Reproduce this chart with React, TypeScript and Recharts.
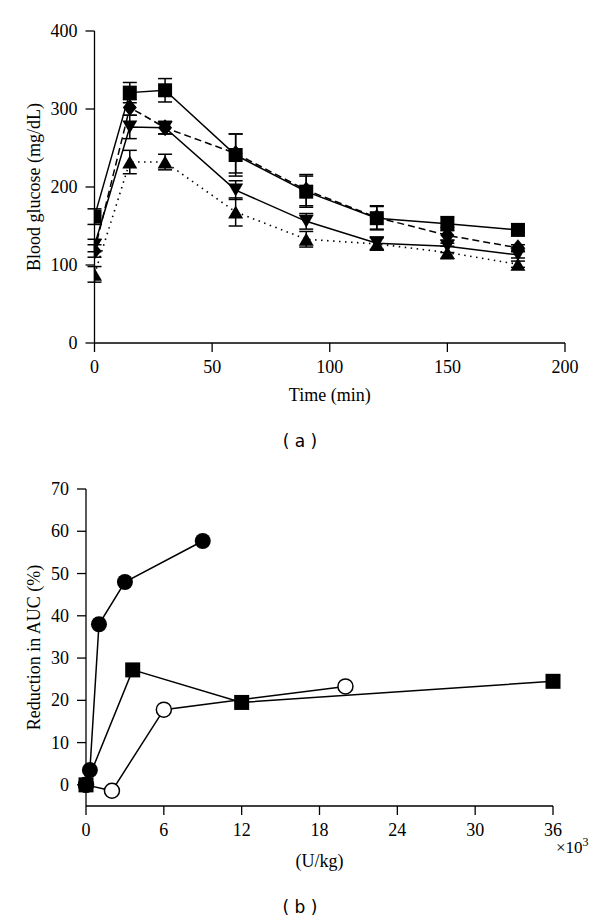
import React from 'react';
import { LineChart, Line, XAxis, YAxis, ErrorBar, ScatterChart, Scatter, Label } from 'recharts';

const SERIF = '"Liberation Serif", "DejaVu Serif", serif';
const SANS = '"DejaVu Sans", sans-serif';
const FS = 18;

// ---- Panel (a): blood glucose vs time ----
const timePoints = [0, 15, 30, 60, 90, 120, 150, 180];
const squareGlucose = [162, 321, 324, 241, 194, 160, 153, 145];
const squareSem = [10, 13, 15, 27, 20, 15, 9, 3];
const diamondGlucose = [118, 302, 276, 243, 196, 161, 138, 122];
const diamondSem = [8, 10, 8, 25, 20, 15, 10, 4];
const downTriGlucose = [125, 277, 276, 196, 156, 128, 124, 113];
const downTriSem = [8, 15, 8, 12, 10, 8, 8, 4];
const upTriGlucose = [88, 232, 232, 168, 133, 127, 116, 101];
const upTriSem = [10, 15, 10, 18, 10, 8, 8, 4];

const glucoseXTicks = [0, 50, 100, 150, 200];
const glucoseYTicks = [0, 100, 200, 300, 400];

// ---- Panel (b): reduction in AUC vs dose (x10^3 U/kg) ----
const filledDose = [0, 0.3, 1, 3, 9];
const filledReduction = [0, 3.5, 38, 48, 57.7];
const openDose = [0, 2, 6, 20];
const openReduction = [0, -1.4, 17.8, 23.3];
const squareDose = [0, 3.6, 12, 36];
const squareReduction = [0, 27.2, 19.5, 24.5];

const doseTicks = [0, 6, 12, 18, 24, 30, 36];
const reductionTicks = [0, 10, 20, 30, 40, 50, 60, 70];

const glucoseData = timePoints.map((t, i) => ({
  t,
  sq: squareGlucose[i],
  sqErr: squareSem[i],
  dm: diamondGlucose[i],
  dmErr: diamondSem[i],
  dt: downTriGlucose[i],
  dtErr: downTriSem[i],
  ut: upTriGlucose[i],
  utErr: upTriSem[i],
}));

const toPoints = (xs: number[], ys: number[]) => xs.map((x, i) => ({ x, y: ys[i] }));
const filledData = toPoints(filledDose, filledReduction);
const openData = toPoints(openDose, openReduction);
const squareData = toPoints(squareDose, squareReduction);

const squareDot = (size: number) => (p: any) => {
  if (p.cx == null || p.cy == null) return <g key={`sq-${p.index}`} />;
  return (
    <rect key={`sq-${p.index}`} x={p.cx - size / 2} y={p.cy - size / 2} width={size} height={size} fill="#000" />
  );
};

const diamondDot = (w: number, h: number) => (p: any) => {
  if (p.cx == null || p.cy == null) return <g key={`dm-${p.index}`} />;
  const { cx, cy } = p;
  return (
    <polygon
      key={`dm-${p.index}`}
      points={`${cx},${cy - h / 2} ${cx + w / 2},${cy} ${cx},${cy + h / 2} ${cx - w / 2},${cy}`}
      fill="#000"
    />
  );
};

const triDot = (w: number, h: number, up: boolean) => (p: any) => {
  if (p.cx == null || p.cy == null) return <g key={`tr-${p.index}`} />;
  const { cx, cy } = p;
  const pts = up
    ? `${cx},${cy - h / 2} ${cx + w / 2},${cy + h / 2} ${cx - w / 2},${cy + h / 2}`
    : `${cx},${cy + h / 2} ${cx + w / 2},${cy - h / 2} ${cx - w / 2},${cy - h / 2}`;
  return <polygon key={`tr-${p.index}`} points={pts} fill="#000" />;
};

const axisLine = { stroke: '#000', strokeWidth: 1.3 };

const XTick = (p: any) => (
  <text
    x={p.x}
    y={p.y}
    dy={12}
    textAnchor="middle"
    dominantBaseline="central"
    fontFamily={SERIF}
    fontSize={FS}
    fill="#000"
  >
    {p.payload && p.payload.value}
  </text>
);

const YTick = (p: any) => (
  <text
    x={p.x}
    y={p.y}
    dx={-1}
    textAnchor="end"
    dominantBaseline="central"
    fontFamily={SERIF}
    fontSize={FS}
    fill="#000"
  >
    {p.payload && p.payload.value}
  </text>
);

const yTitle = (text: string, x: number, fallbackY: number) => (props: any) => {
  const vb = props && props.viewBox;
  const cy = vb && vb.height ? vb.y + vb.height / 2 : fallbackY;
  return (
    <text
      x={x}
      y={cy}
      transform={`rotate(-90 ${x} ${cy})`}
      textAnchor="middle"
      dominantBaseline="central"
      fontFamily={SERIF}
      fontSize={FS}
      fill="#000"
    >
      {text}
    </text>
  );
};

const xTitle = (text: string, y: number, fallbackX: number) => (props: any) => {
  const vb = props && props.viewBox;
  const cx = vb && vb.width ? vb.x + vb.width / 2 : fallbackX;
  return (
    <text x={cx} y={y} textAnchor="middle" dominantBaseline="central" fontFamily={SERIF} fontSize={FS} fill="#000">
      {text}
    </text>
  );
};

export default function App() {
  return (
    <div style={{ position: 'absolute', left: 0, top: 0, width: 600, height: 923, background: '#fff' }}>
      <div style={{ position: 'absolute', left: 0, top: 0 }}>
        <LineChart width={600} height={420} data={glucoseData} margin={{ top: 31, right: 35, left: 0, bottom: 0 }}>
          <XAxis
            dataKey="t"
            type="number"
            domain={[0, 200]}
            ticks={glucoseXTicks}
            height={77}
            tickSize={9}
            tickMargin={3}
            tick={XTick}
            axisLine={axisLine}
            tickLine={axisLine}
            allowDataOverflow
          >
            <Label content={xTitle('Time (min)', 395, 330)} />
          </XAxis>
          <YAxis
            type="number"
            domain={[0, 400]}
            ticks={glucoseYTicks}
            width={94.5}
            tickSize={9}
            tickMargin={7}
            tick={YTick}
            axisLine={axisLine}
            tickLine={axisLine}
          >
            <Label content={yTitle('Blood glucose (mg/dL)', 34, 187)} />
          </YAxis>
          <Line
            dataKey="ut"
            stroke="#000"
            strokeWidth={1.6}
            strokeDasharray="1.5 4.5"
            dot={triDot(15, 13, true)}
            activeDot={false}
            isAnimationActive={false}
          >
            <ErrorBar dataKey="utErr" width={7} stroke="#000" strokeWidth={1.5} direction="y" />
          </Line>
          <Line
            dataKey="dt"
            stroke="#000"
            strokeWidth={1.5}
            dot={triDot(15, 13, false)}
            activeDot={false}
            isAnimationActive={false}
          >
            <ErrorBar dataKey="dtErr" width={7} stroke="#000" strokeWidth={1.5} direction="y" />
          </Line>
          <Line
            dataKey="dm"
            stroke="#000"
            strokeWidth={1.5}
            strokeDasharray="7 4"
            dot={diamondDot(14, 17)}
            activeDot={false}
            isAnimationActive={false}
          >
            <ErrorBar dataKey="dmErr" width={7} stroke="#000" strokeWidth={1.5} direction="y" />
          </Line>
          <Line
            dataKey="sq"
            stroke="#000"
            strokeWidth={1.5}
            dot={squareDot(14)}
            activeDot={false}
            isAnimationActive={false}
          >
            <ErrorBar dataKey="sqErr" width={7} stroke="#000" strokeWidth={1.5} direction="y" />
          </Line>
        </LineChart>
      </div>

      <div
        style={{
          position: 'absolute',
          left: 0,
          width: 600,
          top: 430,
          textAlign: 'center',
          fontFamily: SANS,
          fontSize: 17,
          lineHeight: '22px',
          color: '#000',
        }}
      >
        ( a )
      </div>

      <div style={{ position: 'absolute', left: 0, top: 450 }}>
        <ScatterChart width={600} height={430} margin={{ top: 39, right: 47, left: 0, bottom: 0 }}>
          <XAxis
            dataKey="x"
            type="number"
            domain={[0, 36]}
            ticks={doseTicks}
            height={74}
            tickSize={9}
            tickMargin={3}
            tick={XTick}
            axisLine={axisLine}
            tickLine={axisLine}
          >
            <Label content={xTitle('(U/kg)', 411, 320)} />
          </XAxis>
          <YAxis
            dataKey="y"
            type="number"
            domain={[-5, 70]}
            ticks={reductionTicks}
            width={86}
            tickSize={9}
            tickMargin={7}
            tick={YTick}
            axisLine={axisLine}
            tickLine={axisLine}
          >
            <Label content={yTitle('Reduction in AUC (%)', 34, 190)} />
          </YAxis>
          <Scatter
            data={openData}
            line={{ stroke: '#000', strokeWidth: 1.5 }}
            shape={(p: any) => <circle cx={p.cx} cy={p.cy} r={7.5} fill="#fff" stroke="#000" strokeWidth={1.5} />}
            isAnimationActive={false}
          />
          <Scatter
            data={filledData}
            line={{ stroke: '#000', strokeWidth: 1.5 }}
            shape={(p: any) => <circle cx={p.cx} cy={p.cy} r={8} fill="#000" />}
            isAnimationActive={false}
          />
          <Scatter
            data={squareData}
            line={{ stroke: '#000', strokeWidth: 1.5 }}
            shape={(p: any) => <rect x={p.cx - 7.5} y={p.cy - 7.5} width={15} height={15} fill="#000" />}
            isAnimationActive={false}
          />
        </ScatterChart>
      </div>

      <div
        style={{
          position: 'absolute',
          left: 556,
          top: 839,
          fontFamily: SERIF,
          fontSize: 17,
          lineHeight: '18px',
          color: '#000',
          whiteSpace: 'nowrap',
        }}
      >
        ×10<sup style={{ fontSize: 12, verticalAlign: 'super', lineHeight: 0 }}>3</sup>
      </div>

      <div
        style={{
          position: 'absolute',
          left: 0,
          width: 600,
          top: 896,
          textAlign: 'center',
          fontFamily: SANS,
          fontSize: 17,
          lineHeight: '22px',
          color: '#000',
        }}
      >
        ( b )
      </div>
    </div>
  );
}
